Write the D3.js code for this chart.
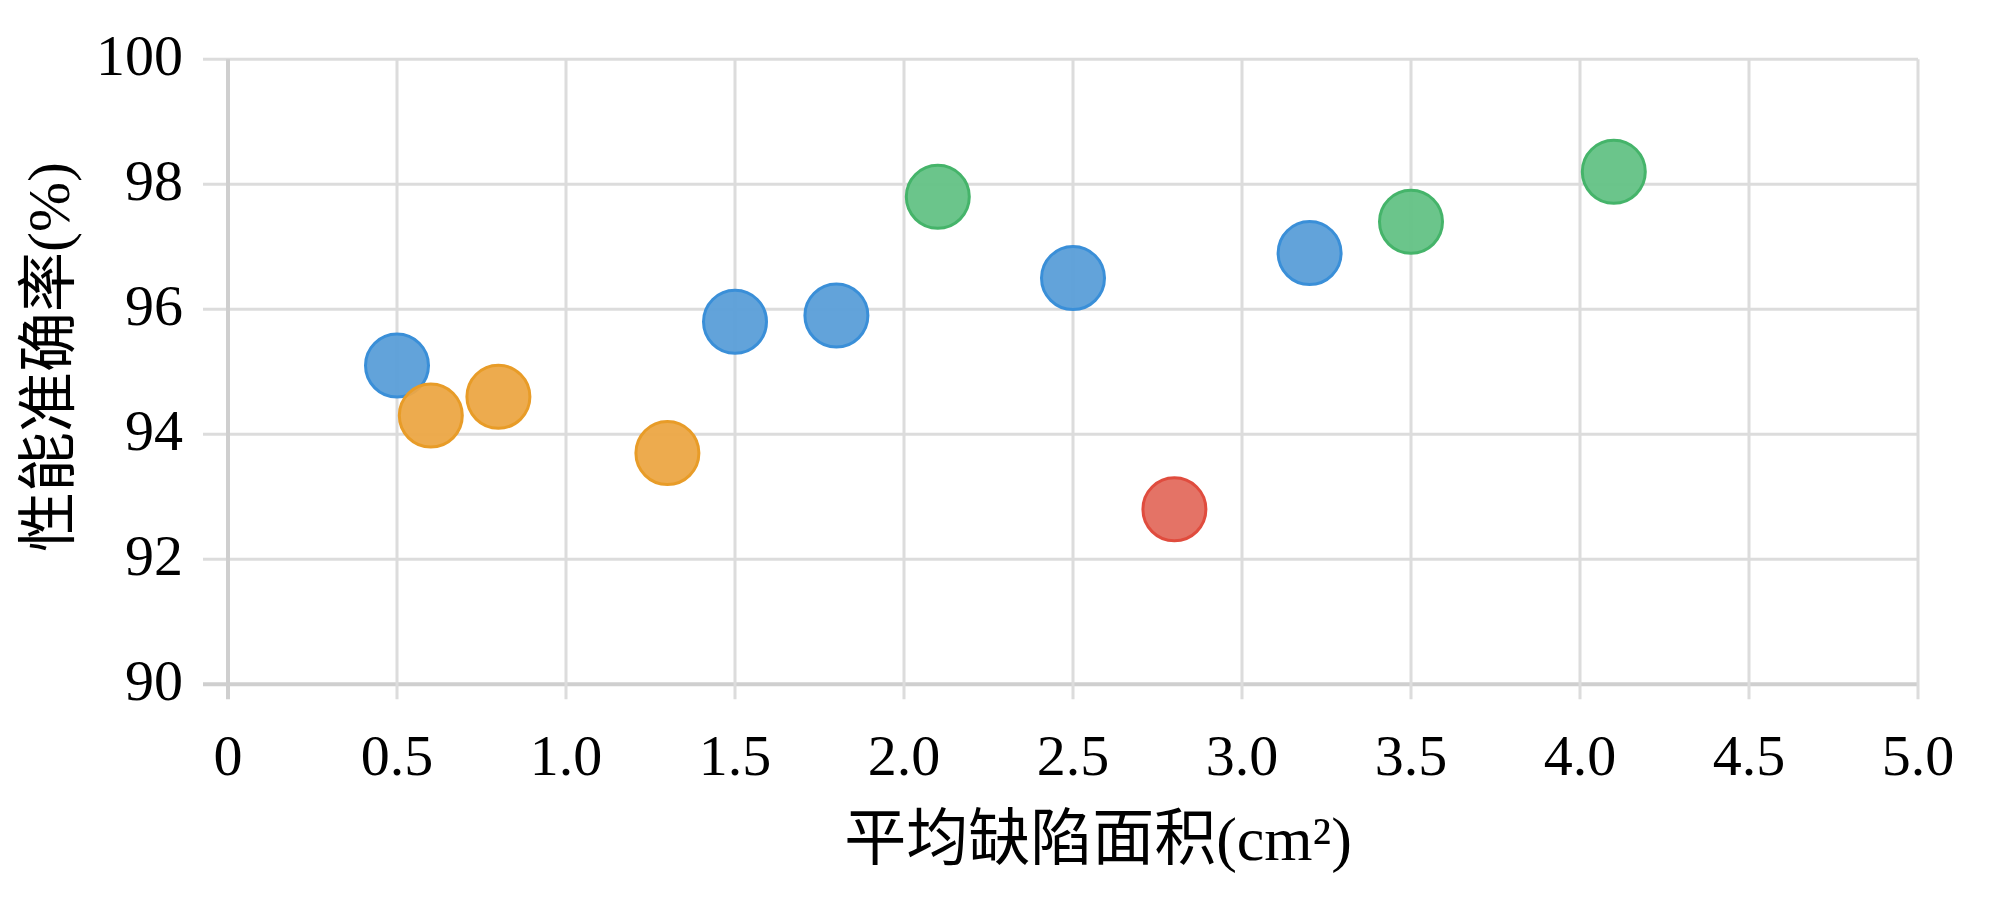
<!DOCTYPE html>
<html>
<head>
<meta charset="utf-8">
<script src="https://cdn.jsdelivr.net/npm/d3@7"></script>
<style>
  html, body { margin: 0; padding: 0; background: #fff; }
  svg { display: block; }
  text { font-family: "Liberation Serif", "Times New Roman", "Noto Sans CJK SC", serif; fill: #000; }
</style>
</head>
<body>
<svg id="chart" width="1991" height="905"></svg>
<script>
// ---- data ----
const seriesNames = ["blue", "orange", "green", "red"];
const blueX = [0.5, 1.5, 1.8, 2.5, 3.2];
const blueY = [95.1, 95.8, 95.9, 96.5, 96.9];
const orangeX = [0.6, 0.8, 1.3];
const orangeY = [94.3, 94.6, 93.7];
const greenX = [2.1, 3.5, 4.1];
const greenY = [97.8, 97.4, 98.2];
const redX = [2.8];
const redY = [92.8];
const xTicks = [0, 0.5, 1.0, 1.5, 2.0, 2.5, 3.0, 3.5, 4.0, 4.5, 5.0];
const xTickLabels = ["0", "0.5", "1.0", "1.5", "2.0", "2.5", "3.0", "3.5", "4.0", "4.5", "5.0"];
const yTicks = [90, 92, 94, 96, 98, 100];
const yTickLabels = ["90", "92", "94", "96", "98", "100"];
const xTitle = "平均缺陷面积(cm²)";
const yTitle = "性能准确率(%)";

// ---- styles ----
const fills = { blue: "#5a9ed8", orange: "#eca645", green: "#63c285", red: "#e36b5e" };
const strokes = { blue: "#3a8fd8", orange: "#e89c28", green: "#45b46a", red: "#e04c3e" };

const svg = d3.select("#chart");
const pLeft = 228, pRight = 1918, pTop = 59.3, pBottom = 684.3;

const x = d3.scaleLinear().domain([0, 5]).range([pLeft, pRight]);
const y = d3.scaleLinear().domain([90, 100]).range([pBottom, pTop]);

const grid = svg.append("g");
grid.selectAll(".hg").data(yTicks).enter().append("line")
  .attr("x1", pLeft - 25).attr("x2", pRight)
  .attr("y1", d => y(d)).attr("y2", d => y(d))
  .attr("stroke", d => d === 90 ? "#cfcfcf" : "#dcdcdc")
  .attr("stroke-width", d => d === 90 ? 4 : 3);
grid.selectAll(".vg").data(xTicks).enter().append("line")
  .attr("x1", d => x(d)).attr("x2", d => x(d))
  .attr("y1", pTop).attr("y2", pBottom + 15)
  .attr("stroke", d => d === 0 ? "#cfcfcf" : "#dcdcdc")
  .attr("stroke-width", d => d === 0 ? 4 : 3);

svg.append("g").selectAll("text").data(xTicks).enter().append("text")
  .attr("x", d => x(d)).attr("y", pBottom + 91)
  .attr("text-anchor", "middle")
  .attr("font-size", 58)
  .text((d, i) => xTickLabels[i]);

svg.append("g").selectAll("text").data(yTicks).enter().append("text")
  .attr("x", pLeft - 45).attr("y", d => y(d) + 16)
  .attr("text-anchor", "end")
  .attr("font-size", 58)
  .text((d, i) => yTickLabels[i]);

svg.append("text")
  .attr("x", 1098).attr("y", 860)
  .attr("text-anchor", "middle")
  .attr("font-size", 62)
  .text(xTitle);

svg.append("text")
  .attr("transform", "translate(69,357) rotate(-90)")
  .attr("text-anchor", "middle")
  .attr("font-size", 60)
  .text(yTitle);

const seriesData = {
  blue: blueX.map((v, i) => ({ x: v, y: blueY[i] })),
  orange: orangeX.map((v, i) => ({ x: v, y: orangeY[i] })),
  green: greenX.map((v, i) => ({ x: v, y: greenY[i] })),
  red: redX.map((v, i) => ({ x: v, y: redY[i] }))
};
seriesNames.forEach(name => {
  svg.append("g").selectAll("circle").data(seriesData[name]).enter().append("circle")
    .attr("cx", d => x(d.x)).attr("cy", d => y(d.y))
    .attr("r", 31.5)
    .attr("fill", fills[name]).attr("fill-opacity", 0.95)
    .attr("stroke", strokes[name]).attr("stroke-width", 3);
});
</script>
</body>
</html>
